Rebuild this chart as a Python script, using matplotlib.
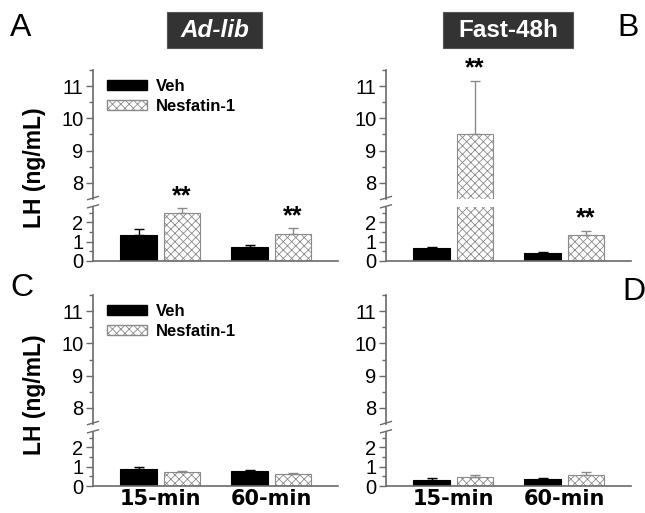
import numpy as np
import matplotlib; matplotlib.use('Agg'); import matplotlib.pyplot as plt
from matplotlib.patches import Patch, Rectangle

plt.rcParams.update({'font.family': ['Liberation Sans', 'DejaVu Sans'], 'hatch.color': '#8a8a8a', 'hatch.linewidth': 0.6})

# data (LH ng/mL, mean and upper SEM)
groups = ['15-min', '60-min']
veh_A = [1.35, 0.72]; veh_A_err = [0.30, 0.10]
nes_A = [2.48, 1.40]; nes_A_err = [0.27, 0.32]
veh_B = [0.67, 0.40]; veh_B_err = [0.08, 0.06]
nes_B = [9.51, 1.35]; nes_B_err = [1.66, 0.22]
veh_C = [0.90, 0.78]; veh_C_err = [0.08, 0.07]
nes_C = [0.72, 0.62]; nes_C_err = [0.04, 0.03]
veh_D = [0.33, 0.37]; veh_D_err = [0.07, 0.07]
nes_D = [0.46, 0.56]; nes_D_err = [0.10, 0.18]
sig_A = [True, True]; sig_B = [True, True]; sig_C = [False, False]; sig_D = [False, False]

W, H = 645, 513
fig = plt.figure(figsize=(W/100, H/100), dpi=100)
def rect(l, t, w, h): return [l/W, 1-(t+h)/H, w/W, h/H]

SP = '#6a6a6a'; NCOL = '#8a8a8a'
x = np.arange(1, len(groups)+1); bw = 0.33; off = 0.195

def panel(left, top_up, top_lo, veh, veh_err, nes, nes_err, sig, xlab, legend):
    up = fig.add_axes(rect(left, top_up, 245, 129))
    lo = fig.add_axes(rect(left, top_lo, 245, 54))
    for ax in (up, lo):
        ax.bar(x-off, veh, bw, color='black', edgecolor='black', lw=0.8)
        ax.bar(x+off, nes, bw, color='white', edgecolor=NCOL, hatch='xxxx', lw=0.8)
        ax.errorbar(x-off, veh, yerr=[np.zeros(2), veh_err], fmt='none', ecolor='black', elinewidth=1, capsize=3.5, capthick=1)
        ax.errorbar(x+off, nes, yerr=[np.zeros(2), nes_err], fmt='none', ecolor=NCOL, elinewidth=1, capsize=3.5, capthick=1)
        ax.set_xlim(0.395, 2.6)
        for s in ('top', 'right'): ax.spines[s].set_visible(False)
        for s in ('left', 'bottom'): ax.spines[s].set_color(SP); ax.spines[s].set_linewidth(1.2)
        ax.tick_params(axis='y', direction='out', length=5, width=1, color=SP, labelsize=14.5, pad=2)
        ax.tick_params(axis='y', which='minor', length=3, width=1, color=SP)
    up.set_ylim(7.5, 11.5); up.set_yticks([8, 9, 10, 11]); up.set_yticks(np.arange(8.5, 11.6, 1), minor=True)
    lo.set_ylim(0, 2.8); lo.set_yticks([0, 1, 2]); lo.set_yticks([0.5, 1.5, 2.5], minor=True)
    up.spines['bottom'].set_visible(False); up.set_xticks([])
    lo.set_xticks(x); lo.tick_params(axis='x', length=0, pad=2)
    lo.set_xticklabels(groups if xlab else ['', ''], fontsize=15, fontweight='bold', family='DejaVu Sans')
    # break marks
    kw = dict(color=SP, lw=1, clip_on=False)
    up.plot([-0.022, 0.022], [-0.005, 0.02], transform=up.transAxes, **kw)
    lo.plot([-0.022, 0.022], [0.985, 1.04], transform=lo.transAxes, **kw)
    for i in range(len(groups)):
        if sig[i]:
            yt = nes[i] + nes_err[i]
            ax = up if yt > 7.5 else lo
            ax.annotate('**', (x[i]+off, yt), xytext=(0, 0), textcoords='offset points', ha='center', va='bottom', fontsize=18, fontweight='bold', annotation_clip=False)
    if legend:
        h = [Patch(facecolor='black', edgecolor='black', label='Veh'),
             Patch(facecolor='white', edgecolor=NCOL, hatch='xxxx', label='Nesfatin-1')]
        up.legend(handles=h, loc='upper left', bbox_to_anchor=(0.058, 0.93), frameon=False, prop={'size': 12, 'weight': 'bold'},
                  handlelength=2.4, handleheight=0.6, handletextpad=0.5, labelspacing=0.3, borderpad=0, borderaxespad=0)
    return up, lo

panel(93, 70, 207, veh_A, veh_A_err, nes_A, nes_A_err, sig_A, False, True)
panel(386, 70, 207, veh_B, veh_B_err, nes_B, nes_B_err, sig_B, False, False)
panel(93, 295, 432, veh_C, veh_C_err, nes_C, nes_C_err, sig_C, True, True)
panel(386, 295, 432, veh_D, veh_D_err, nes_D, nes_D_err, sig_D, True, False)

# titles in dark boxes
for lab, xl, xr, sty in (('Ad-lib', 167, 262, 'italic'), ('Fast-48h', 443, 573, 'normal')):
    fig.patches.append(Rectangle((xl/W, 1-48/H), (xr-xl)/W, 36/H, transform=fig.transFigure, facecolor='#333333', edgecolor='#555555', lw=0.8))
    fig.text((xl+xr)/2/W, 1-31/H, lab, ha='center', va='center', color='white', fontsize=17.5, fontweight='bold', fontstyle=sty)
for lab, yc in (('LH (ng/mL)', 168), ('LH (ng/mL)', 395)):
    fig.text(35/W, 1-yc/H, lab, rotation=90, ha='center', va='center', fontsize=16.5, fontweight='bold')
for lab, xl, yt in (('A', 10, 13), ('B', 617, 13), ('C', 10, 273), ('D', 622, 277)):
    fig.text(xl/W, 1-yt/H, lab, ha='left', va='top', fontsize=23)

fig.savefig('out.png', dpi=100)
